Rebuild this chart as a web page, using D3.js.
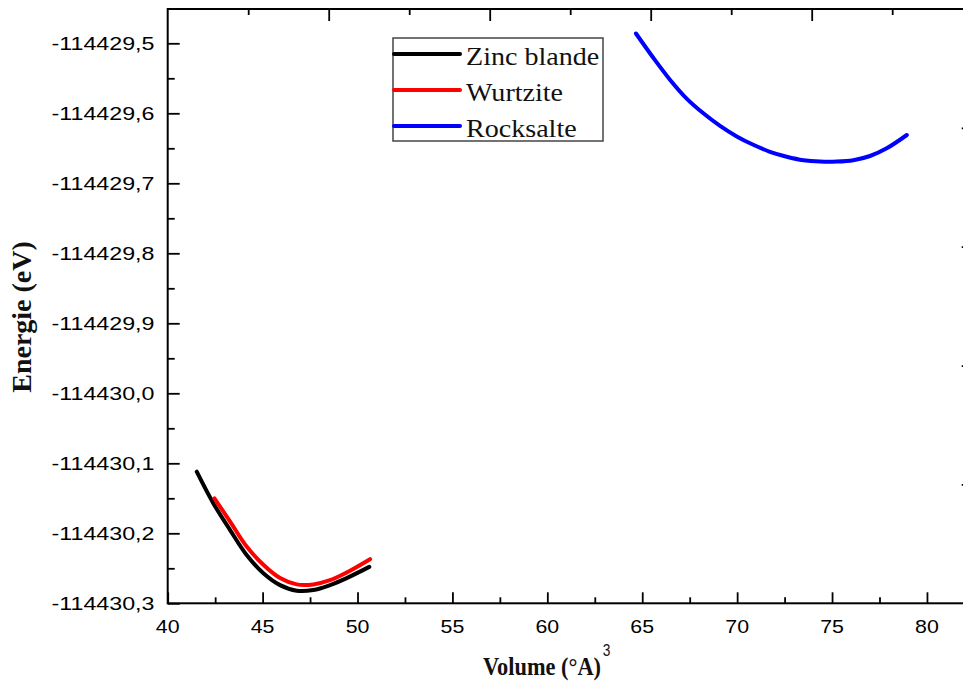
<!DOCTYPE html>
<html>
<head>
<meta charset="utf-8">
<script src="https://cdn.jsdelivr.net/npm/d3@7"></script>
<style>
  html, body { margin: 0; padding: 0; background: #fff; }
  svg { display: block; }
</style>
</head>
<body>
<svg id="chart" width="963" height="682"></svg>
<script>
// Total energy versus cell volume for three ZnX phases
const seriesNames = ["Zinc blande", "Wurtzite", "Rocksalte"];
const seriesColors = ["#000000", "#ff0000", "#0000ff"];

const volZinc = [41.53, 42.40, 43.28, 44.16, 45.04, 45.92, 46.80, 47.67, 48.55, 49.43, 50.62];
const enZinc = [-114430.112, -114430.157, -114430.195, -114430.231, -114430.257, -114430.274,
                -114430.282, -114430.281, -114430.274, -114430.264, -114430.248];

const volWurtz = [42.46, 43.28, 44.16, 45.04, 45.92, 46.80, 47.67, 48.55, 49.43, 50.66];
const enWurtz = [-114430.150, -114430.183, -114430.219, -114430.245, -114430.264, -114430.273,
                 -114430.273, -114430.267, -114430.256, -114430.237];

const volRock = [64.67, 65.59, 66.46, 67.34, 68.22, 69.10, 69.98, 70.85, 71.73, 72.61, 73.49,
                 74.37, 75.25, 76.12, 77.00, 77.88, 78.94];
const enRock = [-114429.486, -114429.521, -114429.552, -114429.579, -114429.600, -114429.618,
                -114429.633, -114429.645, -114429.655, -114429.662, -114429.667, -114429.669,
                -114429.669, -114429.667, -114429.661, -114429.650, -114429.631];

const xTicks = [40, 45, 50, 55, 60, 65, 70, 75, 80];
const xTickLabels = ["40", "45", "50", "55", "60", "65", "70", "75", "80"];
const xMinor = [42.5, 47.5, 52.5, 57.5, 62.5, 67.5, 72.5, 77.5];

const yTicks = [-114430.3, -114430.2, -114430.1, -114430.0, -114429.9, -114429.8, -114429.7, -114429.6, -114429.5];
const yTickLabels = ["-114430,3", "-114430,2", "-114430,1", "-114430,0", "-114429,9",
                     "-114429,8", "-114429,7", "-114429,6", "-114429,5"];
const yMinor = [-114430.25, -114430.15, -114430.05, -114429.95, -114429.85, -114429.75, -114429.65, -114429.55];

const svg = d3.select("#chart");
const plotLeft = 167.7, plotRight = 972.7, plotTop = 9, plotBottom = 603.3;

const x = d3.scaleLinear().domain([40, 82.41]).range([plotLeft, plotRight]);
const y = d3.scaleLinear().domain([-114430.3, -114429.451]).range([plotBottom, plotTop]);
// unlabelled secondary axes on the top and right edges
const xTop = d3.scaleLinear().domain([0, 5]).range([plotLeft, plotRight]);
const yRight = d3.scaleLinear().domain([0, 5]).range([plotBottom, plotTop]);

const axisStyle = g => {
  g.select(".domain").remove();
  g.selectAll(".tick line").attr("stroke", "#000").attr("stroke-width", 1.8);
  g.selectAll(".tick text").remove();
};

// bottom
svg.append("g").attr("transform", `translate(0,${plotBottom})`)
  .call(d3.axisBottom(x).tickValues(xTicks).tickSize(-11)).call(axisStyle);
svg.append("g").attr("transform", `translate(0,${plotBottom})`)
  .call(d3.axisBottom(x).tickValues(xMinor).tickSize(-6)).call(axisStyle);
// left
svg.append("g").attr("transform", `translate(${plotLeft},0)`)
  .call(d3.axisLeft(y).tickValues(yTicks).tickSize(-12)).call(axisStyle);
svg.append("g").attr("transform", `translate(${plotLeft},0)`)
  .call(d3.axisLeft(y).tickValues(yMinor).tickSize(-7)).call(axisStyle);
// top
svg.append("g").attr("transform", `translate(0,${plotTop})`)
  .call(d3.axisTop(xTop).tickValues([1, 2, 3, 4]).tickSize(-12)).call(axisStyle);
svg.append("g").attr("transform", `translate(0,${plotTop})`)
  .call(d3.axisTop(xTop).tickValues([0.5, 1.5, 2.5, 3.5, 4.5]).tickSize(-6)).call(axisStyle);
// right
svg.append("g").attr("transform", `translate(${plotRight},0)`)
  .call(d3.axisRight(yRight).tickValues([1, 2, 3, 4]).tickSize(-11)).call(axisStyle);
svg.append("g").attr("transform", `translate(${plotRight},0)`)
  .call(d3.axisRight(yRight).tickValues([0.5, 1.5, 2.5, 3.5, 4.5]).tickSize(-6)).call(axisStyle);

// frame
svg.append("rect")
  .attr("x", plotLeft).attr("y", plotTop)
  .attr("width", plotRight - plotLeft).attr("height", plotBottom - plotTop)
  .attr("fill", "none").attr("stroke", "#000").attr("stroke-width", 2);

// tick labels
const sansFont = "'Liberation Sans', Arial, sans-serif";
svg.append("g").selectAll("text").data(xTicks).join("text")
  .attr("transform", d => `translate(${x(d)},633) scale(1.22,1)`)
  .attr("text-anchor", "middle")
  .attr("font-family", sansFont).attr("font-size", 17.5).attr("fill", "#000")
  .text((d, i) => xTickLabels[i]);

svg.append("g").selectAll("text").data(yTicks).join("text")
  .attr("transform", d => `translate(154.5,${y(d) + 7}) scale(1.25,1)`)
  .attr("text-anchor", "end")
  .attr("font-family", sansFont).attr("font-size", 18.6).attr("fill", "#000")
  .text((d, i) => yTickLabels[i]);

// axis titles
const serifFont = "'Liberation Serif', 'Times New Roman', serif";
const xt = svg.append("text")
  .attr("transform", "translate(483,675) scale(0.86,1)")
  .attr("font-family", serifFont).attr("font-weight", "bold").attr("font-size", 26)
  .attr("fill", "#111");
xt.append("tspan").text("Volume (°A)");
xt.append("tspan").attr("dy", -19).attr("dx", 2)
  .attr("font-family", sansFont).attr("font-weight", "normal").attr("font-size", 16).text("3");

svg.append("text")
  .attr("transform", "translate(31,317) rotate(-90)")
  .attr("text-anchor", "middle")
  .attr("font-family", serifFont).attr("font-weight", "bold").attr("font-size", 28)
  .attr("fill", "#111")
  .text("Energie (eV)");

// curves
const line = d3.line().x(d => x(d[0])).y(d => y(d[1])).curve(d3.curveCatmullRom.alpha(0.5));
const series = [
  d3.zip(volZinc, enZinc),
  d3.zip(volWurtz, enWurtz),
  d3.zip(volRock, enRock)
];
const plot = svg.append("g");
[0, 1, 2].forEach(i => {
  plot.append("path")
    .attr("d", line(series[i]))
    .attr("fill", "none")
    .attr("stroke", seriesColors[i])
    .attr("stroke-width", 4)
    .attr("stroke-linecap", "round")
    .attr("stroke-linejoin", "round");
});

// legend
const lg = svg.append("g");
lg.append("rect")
  .attr("x", 393).attr("y", 38).attr("width", 210).attr("height", 103)
  .attr("fill", "#fff").attr("stroke", "#444").attr("stroke-width", 1.5);
seriesNames.forEach((name, i) => {
  const ly = 54 + i * 36;
  lg.append("line")
    .attr("x1", 394).attr("x2", 460).attr("y1", ly).attr("y2", ly)
    .attr("stroke", seriesColors[i]).attr("stroke-width", 4).attr("stroke-linecap", "round");
  lg.append("text")
    .attr("transform", `translate(466,${ly + 11}) scale(1.08,1)`)
    .attr("font-family", serifFont).attr("font-size", 26).attr("fill", "#111")
    .text(name);
});
</script>
</body>
</html>
